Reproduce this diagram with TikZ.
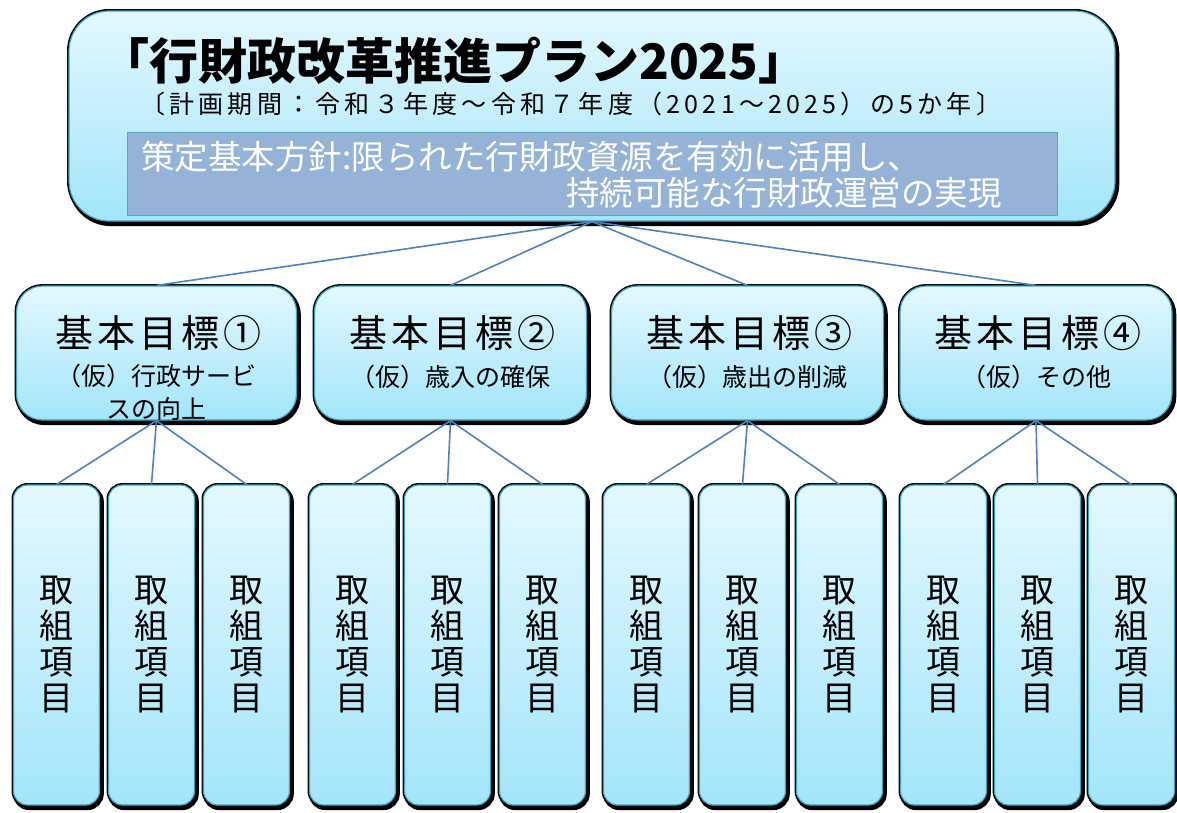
\documentclass[tikz,border=0pt]{standalone}
\usepackage{fontspec}
\setmainfont{Noto Sans CJK JP}
\usetikzlibrary{positioning}
\definecolor{ctop}{HTML}{E3F8FE}
\definecolor{cbot}{HTML}{A3E5FA}
\definecolor{cedge}{HTML}{3FA3C0}
\definecolor{cline}{HTML}{4F81BD}
\definecolor{cpol}{HTML}{95B3D7}
\definecolor{cpoledge}{HTML}{4BACC6}
\tikzset{
  gbox/.style={rectangle, rounded corners=#1, draw=cedge, line width=1.2pt,
    top color=ctop, bottom color=cbot, inner sep=0pt,
    preaction={draw=black, fill=black, line width=5pt, rounded corners=#1,
      transform canvas={shift={(1.8pt,-2.6pt)}}},
    preaction={draw=black, line width=4pt, rounded corners=#1}},
  conn/.style={draw=cline, line width=1.6pt},
  gtitle/.style={font=\fontsize{38}{40}\selectfont\addfontfeature{LetterSpace=11}, inner sep=0pt},
  gsub/.style={font=\fontsize{25}{33}\selectfont, inner sep=0pt, align=center},
  itembox/.style={gbox=14pt, minimum width=86pt, minimum height=320pt,
    font=\fontsize{34}{36}\selectfont, align=center},
}
\begin{document}
\begin{tikzpicture}[x=1pt,y=-1pt]
\useasboundingbox (0,0) rectangle (1177,812);
% top box
\node[gbox=40pt, minimum width=1046pt, minimum height=210pt] (top) at (592,116) {};
\node[anchor=west, inner sep=0pt, font=\bfseries\fontsize{49}{52}\selectfont] (title) at (100,61) {「行財政改革推進プラン2025」};
\node[anchor=west, inner sep=0pt, font=\fontsize{25}{28}\selectfont\addfontfeature{LetterSpace=17}] (period) at (140,104) {〔計画期間：令和３年度～令和７年度（2021～2025）の5か年〕};
\node[rectangle, fill=cpol, draw=cpoledge, line width=0.8pt, minimum width=930pt, minimum height=83pt, inner sep=0pt] (policy) at (592,173.5) {};
\node[anchor=west, inner sep=0pt, text=white, font=\fontsize{33.5}{36}\selectfont] (pol1) at (141,157) {策定基本方針:限られた行財政資源を有効に活用し、};
\node[anchor=east, inner sep=0pt, text=white, font=\fontsize{33.5}{36}\selectfont] (pol2) at (1002,193) {持続可能な行財政運営の実現};
% goal boxes
\node[gbox=26pt, minimum width=280pt, minimum height=134pt] (g1) at (156.5,353) {};
\node[gbox=26pt, minimum width=272pt, minimum height=134pt] (g2) at (450.5,353) {};
\node[gbox=26pt, minimum width=272pt, minimum height=134pt] (g3) at (747.5,353) {};
\node[gbox=26pt, minimum width=272pt, minimum height=134pt] (g4) at (1036,353) {};
\node[gtitle] (g1t) at (158.5,333) {基本目標①};
\node[gsub] (g1s) at (156.5,392) {（仮）行政サービ\\スの向上};
\node[gtitle] (g2t) at (452.5,333) {基本目標②};
\node[gsub] (g2s) at (450.5,377) {（仮）歳入の確保};
\node[gtitle] (g3t) at (749.5,333) {基本目標③};
\node[gsub] (g3s) at (747.5,377) {（仮）歳出の削減};
\node[gtitle] (g4t) at (1038,333) {基本目標④};
\node[gsub] (g4s) at (1036,377) {（仮）その他};
% item boxes
\foreach \n/\x in {a1/56.5, a2/151.5, a3/246.5, b1/352.5, b2/447.5, b3/542.5, c1/646.5, c2/742.5, c3/839.5, d1/943.5, d2/1037.5, d3/1131.5}{
  \node[itembox] (\n) at (\x,645) {取\\組\\項\\目};
}
% connectors
\foreach \g in {g1,g2,g3,g4}{ \draw[conn] (top.south) -- (\g.north); }
\foreach \i in {a1,a2,a3}{ \draw[conn] (g1.south) -- (\i.north); }
\foreach \i in {b1,b2,b3}{ \draw[conn] (g2.south) -- (\i.north); }
\foreach \i in {c1,c2,c3}{ \draw[conn] (g3.south) -- (\i.north); }
\foreach \i in {d1,d2,d3}{ \draw[conn] (g4.south) -- (\i.north); }
\end{tikzpicture}
\end{document}
